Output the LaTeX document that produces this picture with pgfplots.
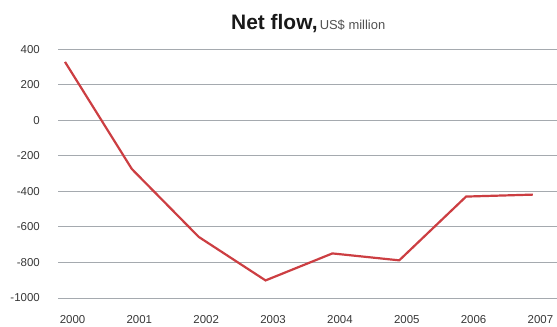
\documentclass[border=0pt]{standalone}
\usepackage{pgfplots}
\pgfplotsset{compat=1.18}
\usepackage{fontspec}
\setmainfont{Liberation Sans}
\definecolor{linered}{RGB}{204,62,66}
\definecolor{gridgray}{RGB}{165,170,175}
\definecolor{ticktext}{RGB}{55,55,55}
\begin{document}
\begin{tikzpicture}[x=1bp,y=1bp]
\useasboundingbox (0,0) rectangle (557,326);
\begin{axis}[
  at={(58bp,28bp)}, anchor=south west,
  scale only axis, width=499bp, height=248.7bp,
  xmin=1999.895, xmax=2007.36,
  ymin=-1000, ymax=400,
  ytick={-1000,-800,-600,-400,-200,0,200,400},
  xtick={2000,2001,2002,2003,2004,2005,2006,2007},
  xticklabels={2000,2001,2002,2003,2004,2005,2006,2007},
  axis line style={draw=none},
  major tick length=0pt,
  ymajorgrids, grid style={gridgray, line width=1bp},
  /pgf/number format/assume math mode=true,
  /pgf/number format/1000 sep={},
  yticklabel style={font=\fontsize{11.5}{12}\selectfont, text=ticktext, anchor=east, inner sep=0pt, xshift=-18bp},
  xticklabel style={font=\fontsize{11.5}{12}\selectfont, text=ticktext, anchor=north, inner sep=0pt, xshift=7.5bp, yshift=-17bp},
  clip=false,
]
\addplot[linered, line width=2.2bp, line join=miter] coordinates {
(2000,329) (2001,-274) (2002,-656) (2003,-901) (2004,-749) (2005,-788) (2006,-429) (2007,-418)
};
\end{axis}
\node[anchor=base west, inner sep=0pt, text={rgb,255:red,25;green,25;blue,25}] at (231,296.7)
  {\fontsize{21}{24}\selectfont\bfseries Net flow,\fontsize{13}{15}\mdseries\color[RGB]{80,80,80}\,US\$ million};
\end{tikzpicture}
\end{document}
